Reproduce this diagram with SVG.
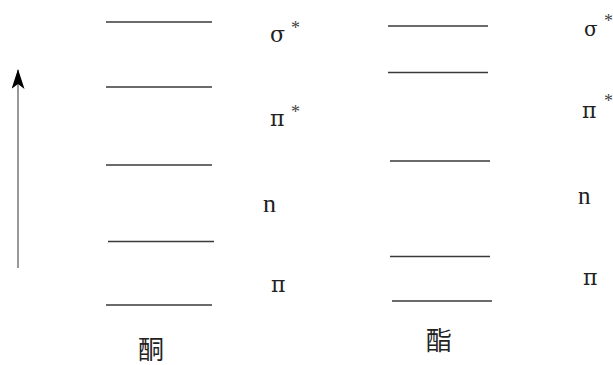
<svg xmlns="http://www.w3.org/2000/svg" width="613" height="365" viewBox="0 0 613 365">
<defs>
<style>
.lv{stroke:#3a3a3a;stroke-width:1.3;fill:none}
.g{font-family:"DejaVu Serif","Liberation Serif",serif;fill:#222}
.n{font-family:"Liberation Serif","DejaVu Serif",serif;fill:#222}
.s{font-family:"Liberation Serif","DejaVu Serif",serif;font-size:18px;fill:#444}
.cjk{font-family:"Noto Sans CJK SC","Noto Sans CJK TC",sans-serif;font-size:26px;fill:#222}
</style>
<marker id="ah" viewBox="0 0 20 13" refX="19" refY="6.5" markerWidth="20" markerHeight="13" markerUnits="userSpaceOnUse" orient="auto">
<path d="M0 0 L20 6.5 L0 13 L5 6.5 Z" fill="#000"/>
</marker>
</defs>
<rect width="613" height="365" fill="#fff"/>
<g id="connectors">
<line x1="18" y1="268" x2="18" y2="70" stroke="#777" stroke-width="1.5" marker-end="url(#ah)"/>
</g>
<g id="ketone">
<line class="lv" x1="106" y1="22" x2="212" y2="22"/>
<line class="lv" x1="106" y1="87" x2="212" y2="87"/>
<line class="lv" x1="106" y1="165" x2="212" y2="165"/>
<line class="lv" x1="108" y1="241.5" x2="214" y2="241.5"/>
<line class="lv" x1="106" y1="305" x2="212" y2="305"/>
<text class="cjk" x="138" y="359">酮</text>
</g>
<g id="ester">
<line class="lv" x1="388" y1="26" x2="488" y2="26"/>
<line class="lv" x1="388" y1="72.5" x2="488" y2="72.5"/>
<line class="lv" x1="390" y1="161" x2="490" y2="161"/>
<line class="lv" x1="390" y1="256.5" x2="490" y2="256.5"/>
<line class="lv" x1="392" y1="301" x2="492" y2="301"/>
<text class="cjk" x="426" y="350">酯</text>
</g>
<g id="labels-left">
<text class="g" x="270" y="42" font-size="22">σ</text>
<text class="s" x="291" y="34">*</text>
<text class="g" x="270" y="126" font-size="22">π</text>
<text class="s" x="291" y="118">*</text>
<text class="n" x="263" y="212" font-size="26">n</text>
<text class="g" x="271" y="292" font-size="22">π</text>
</g>
<g id="labels-right">
<text class="g" x="584" y="36" font-size="20">σ</text>
<text class="s" x="604" y="27">*</text>
<text class="g" x="582" y="118" font-size="22">π</text>
<text class="s" x="604" y="107">*</text>
<text class="n" x="578" y="204" font-size="25">n</text>
<text class="g" x="583" y="285" font-size="22">π</text>
</g>
</svg>
